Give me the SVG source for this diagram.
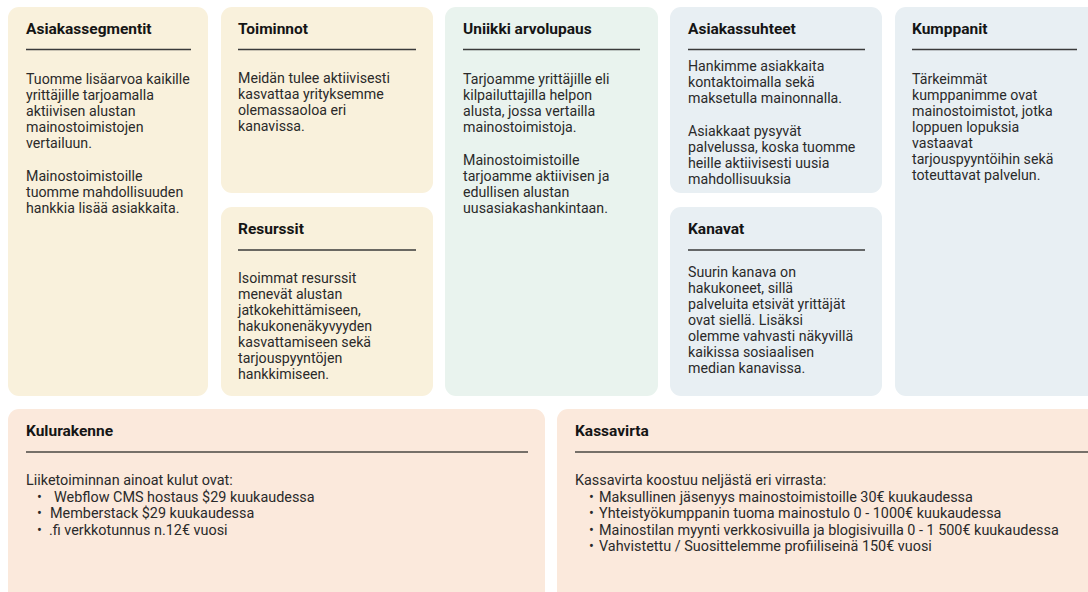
<svg xmlns="http://www.w3.org/2000/svg" width="1088" height="592" viewBox="0 0 1088 592">
  <style>
    .card { stroke: none; }
    .yellow { fill: #f9f1dc; }
    .green { fill: #e9f3ee; }
    .blue { fill: #e8eff3; }
    .peach { fill: #fbe9dc; }
    .title { font-family: Roboto, "Liberation Sans", sans-serif; font-weight: 700; font-size: 15.5px; fill: #151515; }
    .body { font-family: Roboto, "Liberation Sans", sans-serif; font-size: 14.2px; fill: #2a2a2a; }
    .wide { font-size: 14.4px; }
    .rule { stroke: #3a3a3a; stroke-width: 1.4; }
    .rule2 { stroke: #767069; stroke-width: 2; }
  </style>
  <rect width="1088" height="592" fill="#ffffff"/>

  <g id="asiakassegmentit">
    <rect class="card yellow" x="8" y="7" width="200" height="389" rx="11"/>
    <text class="title" x="26" y="34">Asiakassegmentit</text>
    <line class="rule" x1="26" y1="49.5" x2="191" y2="49.5"/>
    <text class="body">
      <tspan x="26" y="84">Tuomme lisäarvoa kaikille</tspan>
      <tspan x="26" y="100">yrittäjille tarjoamalla</tspan>
      <tspan x="26" y="116">aktiivisen alustan</tspan>
      <tspan x="26" y="132">mainostoimistojen</tspan>
      <tspan x="26" y="148">vertailuun.</tspan>
      <tspan x="26" y="181">Mainostoimistoille</tspan>
      <tspan x="26" y="197">tuomme mahdollisuuden</tspan>
      <tspan x="26" y="213">hankkia lisää asiakkaita.</tspan>
    </text>
  </g>

  <g id="toiminnot">
    <rect class="card yellow" x="221" y="7" width="212" height="186" rx="11"/>
    <text class="title" x="238" y="34">Toiminnot</text>
    <line class="rule" x1="238" y1="49.5" x2="416" y2="49.5"/>
    <text class="body">
      <tspan x="238" y="83">Meidän tulee aktiivisesti</tspan>
      <tspan x="238" y="99">kasvattaa yrityksemme</tspan>
      <tspan x="238" y="115">olemassaoloa eri</tspan>
      <tspan x="238" y="131">kanavissa.</tspan>
    </text>
  </g>

  <g id="resurssit">
    <rect class="card yellow" x="221" y="207" width="212" height="189" rx="11"/>
    <text class="title" x="238" y="234">Resurssit</text>
    <line class="rule" x1="238" y1="250" x2="416" y2="250"/>
    <text class="body">
      <tspan x="238" y="283">Isoimmat resurssit</tspan>
      <tspan x="238" y="299">menevät alustan</tspan>
      <tspan x="238" y="315">jatkokehittämiseen,</tspan>
      <tspan x="238" y="331">hakukonenäkyvyyden</tspan>
      <tspan x="238" y="347">kasvattamiseen sekä</tspan>
      <tspan x="238" y="363">tarjouspyyntöjen</tspan>
      <tspan x="238" y="379">hankkimiseen.</tspan>
    </text>
  </g>

  <g id="uniikki-arvolupaus">
    <rect class="card green" x="445" y="7" width="213" height="389" rx="11"/>
    <text class="title" x="463" y="34">Uniikki arvolupaus</text>
    <line class="rule" x1="463" y1="49.5" x2="640" y2="49.5"/>
    <text class="body">
      <tspan x="463" y="84">Tarjoamme yrittäjille eli</tspan>
      <tspan x="463" y="100">kilpailuttajilla helpon</tspan>
      <tspan x="463" y="116">alusta, jossa vertailla</tspan>
      <tspan x="463" y="132">mainostoimistoja.</tspan>
      <tspan x="463" y="165">Mainostoimistoille</tspan>
      <tspan x="463" y="181">tarjoamme aktiivisen ja</tspan>
      <tspan x="463" y="197">edullisen alustan</tspan>
      <tspan x="463" y="213">uusasiakashankintaan.</tspan>
    </text>
  </g>

  <g id="asiakassuhteet">
    <rect class="card blue" x="670" y="7" width="212" height="186" rx="11"/>
    <text class="title" x="688" y="34">Asiakassuhteet</text>
    <line class="rule" x1="688" y1="49.5" x2="865" y2="49.5"/>
    <text class="body">
      <tspan x="688" y="71">Hankimme asiakkaita</tspan>
      <tspan x="688" y="87">kontaktoimalla sekä</tspan>
      <tspan x="688" y="103">maksetulla mainonnalla.</tspan>
      <tspan x="688" y="136">Asiakkaat pysyvät</tspan>
      <tspan x="688" y="152">palvelussa, koska tuomme</tspan>
      <tspan x="688" y="168">heille aktiivisesti uusia</tspan>
      <tspan x="688" y="184">mahdollisuuksia</tspan>
    </text>
  </g>

  <g id="kanavat">
    <rect class="card blue" x="670" y="207" width="212" height="189" rx="11"/>
    <text class="title" x="688" y="234">Kanavat</text>
    <line class="rule" x1="688" y1="250" x2="865" y2="250"/>
    <text class="body">
      <tspan x="688" y="277">Suurin kanava on</tspan>
      <tspan x="688" y="293">hakukoneet, sillä</tspan>
      <tspan x="688" y="309">palveluita etsivät yrittäjät</tspan>
      <tspan x="688" y="325">ovat siellä. Lisäksi</tspan>
      <tspan x="688" y="341">olemme vahvasti näkyvillä</tspan>
      <tspan x="688" y="357">kaikissa sosiaalisen</tspan>
      <tspan x="688" y="373">median kanavissa.</tspan>
    </text>
  </g>

  <g id="kumppanit">
    <rect class="card blue" x="895" y="7" width="210" height="389" rx="11"/>
    <text class="title" x="912" y="34">Kumppanit</text>
    <line class="rule" x1="912" y1="49.5" x2="1077" y2="49.5"/>
    <text class="body">
      <tspan x="912" y="84">Tärkeimmät</tspan>
      <tspan x="912" y="100">kumppanimme ovat</tspan>
      <tspan x="912" y="116">mainostoimistot, jotka</tspan>
      <tspan x="912" y="132">loppuen lopuksia</tspan>
      <tspan x="912" y="148">vastaavat</tspan>
      <tspan x="912" y="164">tarjouspyyntöihin sekä</tspan>
      <tspan x="912" y="180">toteuttavat palvelun.</tspan>
    </text>
  </g>

  <g id="kulurakenne">
    <rect class="card peach" x="8" y="409" width="537" height="200" rx="11"/>
    <text class="title" x="26" y="436">Kulurakenne</text>
    <line class="rule2" x1="26" y1="452" x2="528" y2="452"/>
    <text class="body wide">
      <tspan x="26" y="485">Liiketoiminnan ainoat kulut ovat:</tspan>
    </text>
    <text class="body wide">
      <tspan x="37" y="501.5">•</tspan><tspan x="54" y="501.5">Webflow CMS hostaus $29 kuukaudessa</tspan>
      <tspan x="37" y="518">•</tspan><tspan x="50" y="518">Memberstack $29 kuukaudessa</tspan>
      <tspan x="37" y="534.5">•</tspan><tspan x="49" y="534.5">.fi verkkotunnus n.12€ vuosi</tspan>
    </text>
  </g>

  <g id="kassavirta">
    <rect class="card peach" x="557" y="409" width="560" height="200" rx="11"/>
    <text class="title" x="575" y="436">Kassavirta</text>
    <line class="rule2" x1="575" y1="452" x2="1088" y2="452"/>
    <text class="body wide">
      <tspan x="575" y="485">Kassavirta koostuu neljästä eri virrasta:</tspan>
    </text>
    <text class="body wide">
      <tspan x="589" y="501.5">•</tspan><tspan x="599" y="501.5">Maksullinen jäsenyys mainostoimistoille 30€ kuukaudessa</tspan>
      <tspan x="589" y="518">•</tspan><tspan x="599" y="518">Yhteistyökumppanin tuoma mainostulo 0 - 1000€ kuukaudessa</tspan>
      <tspan x="589" y="534.5">•</tspan><tspan x="599" y="534.5">Mainostilan myynti verkkosivuilla ja blogisivuilla 0 - 1 500€ kuukaudessa</tspan>
      <tspan x="589" y="551">•</tspan><tspan x="599" y="551">Vahvistettu / Suosittelemme profiiliseinä 150€ vuosi</tspan>
    </text>
  </g>

  <g id="connectors"/>
</svg>
